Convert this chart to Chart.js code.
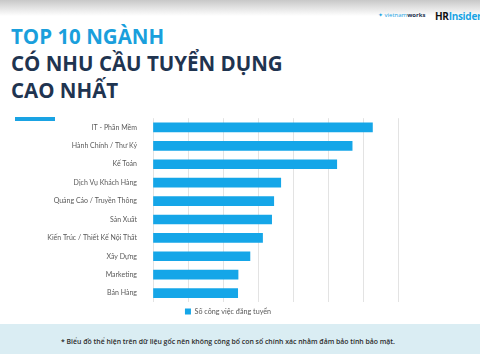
<!DOCTYPE html>
<html><head><meta charset="utf-8">
<script src="https://cdn.jsdelivr.net/npm/chart.js@4/dist/chart.umd.min.js"></script>
<style>
html,body{margin:0;padding:0;width:480px;height:354px;overflow:hidden;background:#fff;font-family:"Open Sans",sans-serif;}
#topband{position:absolute;left:0;top:0;width:480px;height:16px;background:linear-gradient(#c8c8c8,#ffffff);}
.t{position:absolute;left:11px;font-weight:700;font-size:20.5px;white-space:nowrap;line-height:1;}
#t1{top:26px;color:#1a9fdc;}
#t2{top:53px;color:#1f3450;}
#t3{top:80px;color:#1f3450;}
#accent{position:absolute;left:15px;top:117px;width:40px;height:4px;background:#1aa3e3;}
#vw{position:absolute;left:378px;top:11px;font-size:6px;color:#1aa3e3;font-family:"Open Sans";}
#vw b{color:#1f3450}
#hr{position:absolute;left:435px;top:9px;font-size:10px;font-weight:700;font-family:"Open Sans";letter-spacing:-0.3px;}
#foot{position:absolute;left:0;top:324px;width:480px;height:30px;background:#daedf3;}
#foottext{position:absolute;left:0;top:337px;width:456px;text-align:center;font-size:6.9px;font-weight:600;color:#2b2b2b;font-family:"Open Sans";}
#wrap{position:absolute;left:0;top:106px;width:458px;height:219px;}
</style></head><body>
<div id="topband"></div>
<div class="t" id="t1">TOP 10 NGÀNH</div>
<div class="t" id="t2">CÓ NHU CẦU TUYỂN DỤNG</div>
<div class="t" id="t3">CAO NHẤT</div>
<div id="accent"></div>
<div id="vw">✦ vietnam<b>works</b></div>
<div id="hr"><span style="color:#111">HR</span><span style="color:#1aa3e3">Insider</span></div>
<div id="wrap"><canvas id="c" width="458" height="219"></canvas></div>
<div id="foot"></div>
<div id="foottext">* Biểu đồ thể hiện trên dữ liệu gốc nên không công bố con số chính xác nhằm đảm bảo tính bảo mật.</div>
<script>
const categories = ["IT - Phần Mềm","Hành Chính / Thư Ký","Kế Toán","Dịch Vụ Khách Hàng","Quảng Cáo / Truyền Thông","Sản Xuất","Kiến Trúc / Thiết Kế Nội Thất","Xây Dựng","Marketing","Bán Hàng"];
const values = [6.27,5.69,5.25,3.65,3.45,3.39,3.13,2.77,2.43,2.42];
const seriesName = "Số công việc đăng tuyển";

const shiftLegend = {
  id: 'shiftLegend',
  afterLayout(chart) {
    const lg = chart.legend;
    if (lg) { lg.left += 29; lg.right += 29; }
  }
};

new Chart(document.getElementById('c'), {
  type: 'bar',
  data: { labels: categories, datasets: [{ label: seriesName, data: values, backgroundColor: '#15a6e8', borderWidth: 0, barThickness: 9 }] },
  options: {
    indexAxis: 'y', responsive: false, animation: false,
    devicePixelRatio: 1,
    layout: { padding: { top: 0, right: 60, left: 0, bottom: 0 } },
    plugins: {
      tooltip: { enabled: false },
      legend: { position: 'bottom', labels: { boxWidth: 6, boxHeight: 6, padding: 5.5, color: '#595959', font: { family: 'Lato', size: 7.2 } } }
    },
    scales: {
      x: { min: 0, max: 7, ticks: { display: false, stepSize: 1 }, grid: { color: '#e3e3e3', drawTicks: false, lineWidth: 1 }, border: { display: false } },
      y: { ticks: { color: '#595959', padding: 8, font: { family: 'Lato', size: 7 } }, grid: { display: false }, border: { display: false },
           afterFit: s => { s.width = 153; } }
    }
  },
  plugins: [shiftLegend]
});
</script>
</body></html>
